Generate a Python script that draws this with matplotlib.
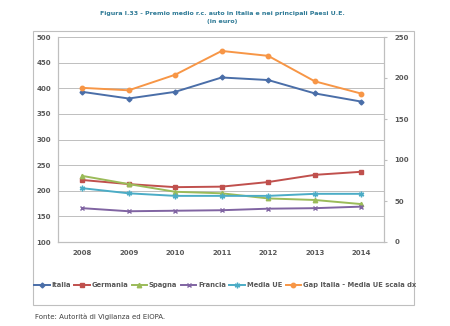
import matplotlib
matplotlib.use("Agg")
import matplotlib.pyplot as plt
from matplotlib.patches import Rectangle

years = ["2008", "2009", "2010", "2011", "2012", "2013", "2014"]
italia = [393, 380, 393, 421, 416, 390, 374]
germania = [221, 213, 207, 208, 217, 231, 237]
spagna = [229, 213, 198, 195, 185, 182, 174]
francia = [166, 160, 161, 162, 165, 166, 169]
media_ue = [205, 195, 190, 190, 190, 194, 194]
gap = [188, 185, 204, 233, 227, 196, 181]

left_ticks = [100, 150, 200, 250, 300, 350, 400, 450, 500]
right_ticks = [0, 50, 100, 150, 200, 250]

W, H = 450, 326
fig = plt.figure(figsize=(W / 100, H / 100), dpi=100)
fig.patch.set_facecolor("white")

def fx(px):
    return px / W

def fy(py):
    return 1 - py / H

# outer chart frame
fig.patches.append(Rectangle((fx(33), fy(305)), fx(414) - fx(33), fy(31) - fy(305),
                             transform=fig.transFigure, fill=False,
                             edgecolor="#bfbfbf", linewidth=0.8))

title_color = "#2f7a96"
fig.text(fx(222), fy(13), "Figura I.33 - Premio medio r.c. auto in Italia e nei principali Paesi U.E.",
         ha="center", va="center", fontsize=4.5, fontweight="bold", color=title_color)
fig.text(fx(222), fy(21.5), "(in euro)", ha="center", va="center", fontsize=4.5,
         fontweight="bold", color=title_color)

ax = fig.add_axes([fx(58), fy(242), fx(384) - fx(58), fy(37) - fy(242)])
ax2 = ax.twinx()

x = list(range(len(years)))
tick_color = "#595959"

series = [
    ("Italia", italia, "#4a6ea8", "D", 2.5, ax),
    ("Germania", germania, "#c0504d", "s", 3, ax),
    ("Spagna", spagna, "#9bbb59", "^", 3.2, ax),
    ("Francia", francia, "#8064a2", "x", 3.2, ax),
    ("Media UE", media_ue, "#4bacc6", (6, 2, 0), 4, ax),
]
handles = []
for name, vals, col, mk, ms, a in series:
    h, = a.plot(x, vals, color=col, marker=mk, markersize=ms, linewidth=1.4,
                markeredgecolor=col, markerfacecolor=col, label=name, zorder=3)
    handles.append(h)
hg, = ax2.plot(x, gap, color="#f79646", marker="o", markersize=3.2, linewidth=1.4,
               label="Gap Italia - Media UE scala dx", zorder=3)
handles.append(hg)

ax.set_xlim(-0.52, 6.49)
ax.set_ylim(100, 500)
ax2.set_ylim(0, 250)
ax.set_yticks(left_ticks)
ax2.set_yticks(right_ticks)
ax.set_xticks(x)
ax.set_xticklabels(years)

ax.grid(axis="y", color="#bfbfbf", linewidth=0.7)
ax.set_axisbelow(True)

for a in (ax, ax2):
    for s in a.spines.values():
        s.set_color("#bfbfbf")
        s.set_linewidth(0.8)
    a.spines["top"].set_visible(False)

ax.tick_params(axis="x", length=0, pad=6, labelsize=5, labelcolor=tick_color)
ax.tick_params(axis="y", length=0, pad=5, labelsize=5, labelcolor=tick_color)
ax2.tick_params(axis="y", length=2.5, color="#bfbfbf", pad=5, labelsize=5, labelcolor=tick_color)
for lab in ax.get_xticklabels() + ax.get_yticklabels() + ax2.get_yticklabels():
    lab.set_fontweight("bold")

leg = fig.legend(handles=handles, loc="center", bbox_to_anchor=(fx(225), fy(285)),
                 ncol=6, frameon=False, fontsize=4.9, handlelength=2.3,
                 handletextpad=0.25, columnspacing=0.5, borderpad=0)
for t in leg.get_texts():
    t.set_color(tick_color)
    t.set_fontweight("bold")

fig.text(fx(35), fy(317), "Fonte: Autorità di Vigilanza ed EIOPA.", ha="left", va="center",
         fontsize=5, color="#404040")

fig.savefig("out.png", dpi=100, facecolor="white")
